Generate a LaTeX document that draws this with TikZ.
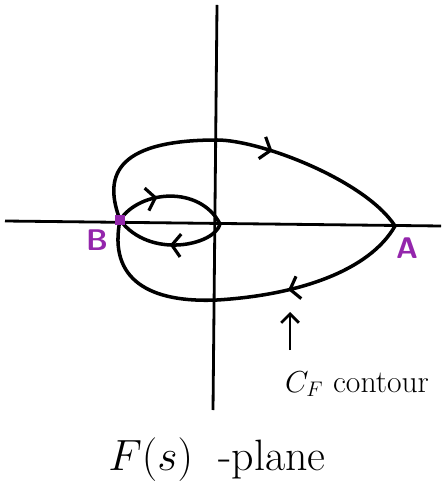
\documentclass[tikz,border=0pt]{standalone}
\usetikzlibrary{arrows.meta,decorations.markings}
\usepackage{xcolor}
\definecolor{bpurple}{RGB}{148,38,172}
\tikzset{
    axis/.style={line width=1.6pt,draw=black},
    contour/.style={line width=2pt,draw=black},
    chevron/.style={
        postaction={decorate,decoration={markings,
            mark=at position #1 with {\arrow{Straight Barb[length=5pt,width=13pt,line width=1.8pt]}}}}
    },
    dot/.style={fill=bpurple,inner sep=0pt,minimum size=6pt},
    ptlabel/.style={text=bpurple,font=\fontsize{17}{20}\selectfont\bfseries\sffamily},
    hand/.style={font=\fontsize{#1}{1.2\dimexpr#1pt\relax}\selectfont},
    hand/.default=17
}
\begin{document}
\begin{tikzpicture}[x=0.02cm,y=-0.02cm]
\useasboundingbox (0,0) rectangle (441,492);

% axes
\coordinate (xleft) at (5,221);
\coordinate (xright) at (441,226);
\coordinate (ytop) at (217,5);
\coordinate (ybot) at (213,410);
\draw[axis] (xleft)--(xright);
\draw[axis] (ytop)--(ybot);

% points of the contour
\coordinate (B) at (120,220);
\coordinate (A) at (395,226);
\coordinate (orig) at (220,224);
\coordinate (top) at (217,140);
\coordinate (bot) at (217,300);

% outer loop
\draw[contour] (B) .. controls (105,180) and (110,140) .. (top);
\draw[contour,chevron=0.28] (top) .. controls (260,140) and (365,180) .. (A);
\draw[contour,chevron=0.64] (A) .. controls (370,270) and (300,295) .. (bot);
\draw[contour] (bot) .. controls (150,303) and (108,280) .. (B);

% inner loop
\draw[contour,chevron=0.38] (B) .. controls (140,190) and (200,185) .. (orig);
\draw[contour,chevron=0.5] (orig) .. controls (215,245) and (150,260) .. (B);

\node[dot] (Bdot) at (B) {};
\node[ptlabel] (Blab) at (97,240) {B};
\node[ptlabel] (Alab) at (407,248) {A};

% labels
\coordinate (cftail) at (290,350);
\coordinate (cftip) at (290,312);
\draw[axis,-{Straight Barb[length=5pt,width=10pt]}] (cftail)--(cftip);
\node[hand=18,anchor=west] (cf) at (279,384) {$C_F$ contour};
\node[hand=25] (plane) at (217,460) {$F(s)$\; -plane};

\end{tikzpicture}
\end{document}
